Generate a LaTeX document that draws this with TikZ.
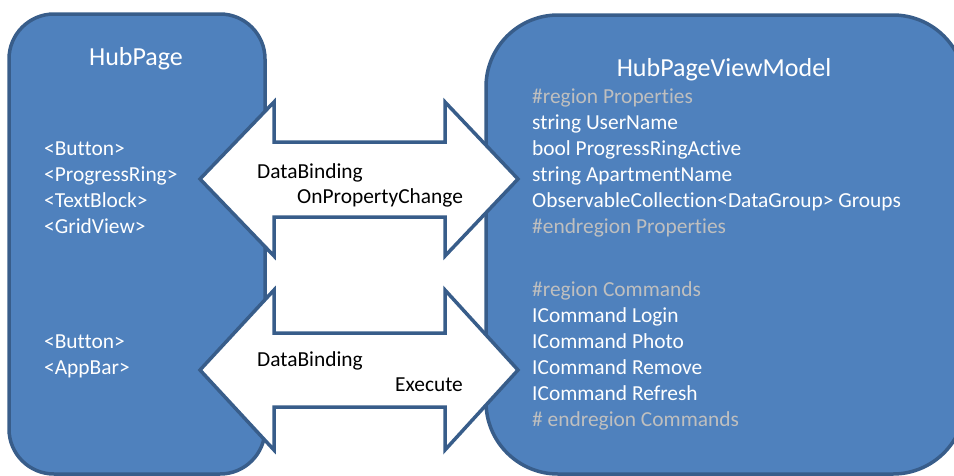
\documentclass[tikz,border=0pt]{standalone}
\usepackage{fontspec}
\setmainfont{Carlito}[Ligatures={NoCommon}]
\definecolor{boxfill}{RGB}{79,129,189}
\definecolor{boxline}{RGB}{56,93,138}
\definecolor{regiongray}{RGB}{191,191,191}
\tikzset{
  panel/.style={draw=boxline, fill=boxfill, line width=3.5pt, inner sep=0pt, outer sep=0pt},
  dblarrow/.style={draw=boxline, fill=white, line width=3.5pt, line join=miter},
  title/.style={text=white, font=\fontsize{26}{30}\selectfont, inner sep=0pt, anchor=base},
  item/.style={text=white, font=\fontsize{21.4}{26}\selectfont, inner sep=0pt, anchor=base west},
  region/.style={item, text=regiongray},
  arrowtext/.style={text=black, font=\fontsize{21.4}{26}\selectfont, inner sep=0pt, anchor=base west}
}
\begin{document}
\begin{tikzpicture}[x=1pt,y=-1pt]
\useasboundingbox (0,0) rectangle (954,475);
\begin{scope}
\clip (0,0) rectangle (954,475);
\node[panel, rounded corners=45pt, minimum width=256pt, minimum height=460pt] (hub) at (137,244) {};
\node[panel, rounded corners=72pt, minimum width=479pt, minimum height=459pt] (vm) at (725.5,244.5) {};
\end{scope}
% arrows
\draw[dblarrow] (200,179) -- (274,102) -- (274,142) -- (445,142) -- (445,102) -- (518,179)
  -- (445,256) -- (445,217) -- (274,217) -- (274,256) -- cycle;
\draw[dblarrow] (200,370) -- (274,290) -- (274,333) -- (445,333) -- (445,290) -- (518,370)
  -- (445,450) -- (445,407) -- (274,407) -- (274,450) -- cycle;
% titles
\node[title] (hubt) at (136,65) {HubPage};
\node[title] (vmt) at (724,76) {HubPageViewModel};
% left items
\node[item] (l1) at (44,155) {<Button>};
\node[item] (l2) at (44,181) {<ProgressRing>};
\node[item] (l3) at (44,207) {<TextBlock>};
\node[item] (l4) at (44,233) {<GridView>};
\node[item] (l5) at (44,348) {<Button>};
\node[item] (l6) at (44,374) {<AppBar>};
% right items
\node[region] (r1) at (532,103) {\#region Properties};
\node[item] (r2) at (532,129) {string UserName};
\node[item] (r3) at (532,155) {bool ProgressRingActive};
\node[item] (r4) at (532,181) {string ApartmentName};
\node[item] (r5) at (532,207) {ObservableCollection<DataGroup> Groups};
\node[region] (r6) at (532,233) {\#endregion Properties};
\node[region] (c1) at (532,296.5) {\#region Commands};
\node[item] (c2) at (532,322.5) {ICommand Login};
\node[item] (c3) at (532,348.5) {ICommand Photo};
\node[item] (c4) at (532,374) {ICommand Remove};
\node[item] (c5) at (532,400) {ICommand Refresh};
\node[region] (c6) at (532,426.5) {\# endregion Commands};
% arrow labels
\node[arrowtext] (a1) at (257,178.7) {DataBinding};
\node[arrowtext] (a2) at (297,203.3) {OnPropertyChange};
\node[arrowtext] (a3) at (257,366.7) {DataBinding};
\node[arrowtext] (a4) at (395,391.7) {Execute};
\end{tikzpicture}
\end{document}
